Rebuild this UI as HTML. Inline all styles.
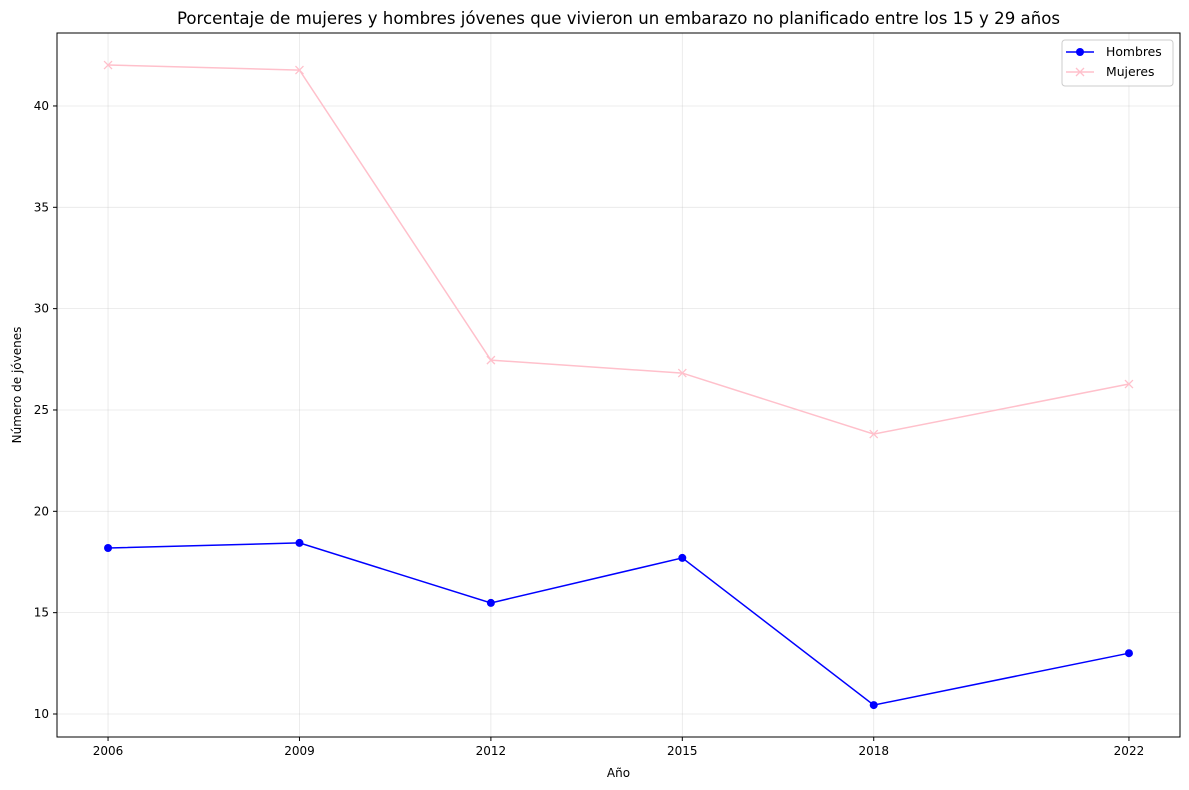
<!DOCTYPE html>
<html><head><meta charset="utf-8"><style>body{margin:0;background:#fff}svg{display:block;font-family:"DejaVu Sans","Liberation Sans",sans-serif}</style></head>
<body>
<svg id="c" width="1189" height="790"></svg>
<script>
const years=[2006,2009,2012,2015,2018,2022];
const hombres=[18.19,18.44,15.48,17.70,10.44,13.0];
const mujeres=[42.02,41.77,27.46,26.82,23.81,26.28];
const yTicks=[10,15,20,25,30,35,40];
const L=57,R=1180,T=33,B=737;
const x=v=>L+(v-2005.2)/(2022.8-2005.2)*(R-L);
const y=v=>B-(v-8.865)/(43.6-8.865)*(B-T);
const s=document.getElementById('c');const NS='http://www.w3.org/2000/svg';
function mk(t,a,p,txt){const e=document.createElementNS(NS,t);for(const k in a)e.setAttribute(k,a[k]);if(txt!=null)e.textContent=txt;(p||s).appendChild(e);return e;}
let g=mk('g',{});


years.forEach(v=>mk('line',{x1:x(v),x2:x(v),y1:T,y2:B,stroke:'#b0b0b0','stroke-opacity':0.3,'stroke-width':0.8},g));
yTicks.forEach(v=>mk('line',{x1:L,x2:R,y1:y(v),y2:y(v),stroke:'#b0b0b0','stroke-opacity':0.3,'stroke-width':0.8},g));
let ax=mk('g',{});


years.forEach(v=>{mk('line',{x1:x(v),x2:x(v),y1:B,y2:B+4,stroke:'#000'},ax);mk('text',{x:x(v),y:B+18,'font-size':12,'text-anchor':'middle'},ax,v);});
let ay=mk('g',{});


yTicks.forEach(v=>{mk('line',{x1:L-4,x2:L,y1:y(v),y2:y(v),stroke:'#000'},ay);mk('text',{x:L-8,y:y(v)+4,'font-size':12,'text-anchor':'end'},ay,v);});
function series(d,col,name,marker){const gg=mk('g',{});


mk('polyline',{points:d.map((v,i)=>x(years[i])+','+y(v)).join(' '),fill:'none',stroke:col,'stroke-width':1.5},gg);
d.forEach((v,i)=>{const cx=x(years[i]),cy=y(v);if(marker==='o')mk('circle',{cx,cy,r:4,fill:col},gg);else mk('path',{d:`M${cx-4},${cy-4}L${cx+4},${cy+4}M${cx-4},${cy+4}L${cx+4},${cy-4}`,stroke:col,'stroke-width':1.3},gg);});}
series(mujeres,'pink','mujeres-line','x');
series(hombres,'blue','hombres-line','o');
mk('rect',{x:L,y:T,width:R-L,height:B-T,fill:'none',stroke:'#000','stroke-width':1});
let t=mk('text',{x:(L+R)/2,y:24,'font-size':16.6,'text-anchor':'middle'},null,'Porcentaje de mujeres y hombres jóvenes que vivieron un embarazo no planificado entre los 15 y 29 años');


let xt=mk('text',{x:(L+R)/2,y:777,'font-size':12,'text-anchor':'middle'},null,'Año');


let yt=mk('text',{x:0,y:0,'font-size':12,'text-anchor':'middle',transform:`translate(21,${(T+B)/2}) rotate(-90)`},null,'Número de jóvenes');


let lg=mk('g',{});


mk('rect',{x:1062,y:40,width:111,height:46,rx:3,fill:'#fff','fill-opacity':0.8,stroke:'#ccc'},lg);
mk('line',{x1:1066,x2:1094,y1:52,y2:52,stroke:'blue','stroke-width':1.5},lg);
mk('circle',{cx:1080,cy:52,r:4,fill:'blue'},lg);
mk('text',{x:1106,y:56,'font-size':12.4},lg,'Hombres');
mk('line',{x1:1066,x2:1094,y1:72,y2:72,stroke:'pink','stroke-width':1.5},lg);
mk('path',{d:'M1076,68L1084,76M1076,76L1084,68',stroke:'pink','stroke-width':1.3},lg);
mk('text',{x:1106,y:76,'font-size':12.4},lg,'Mujeres');
</script>
</body></html>
